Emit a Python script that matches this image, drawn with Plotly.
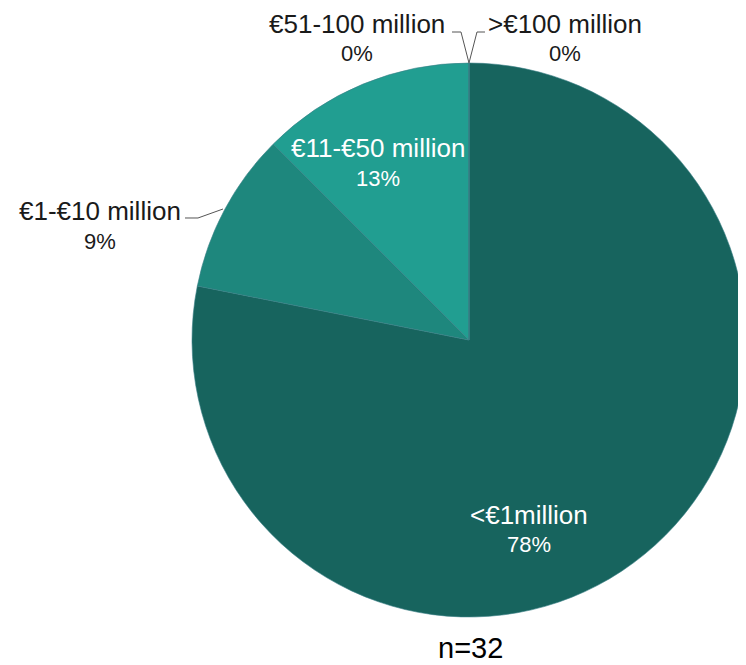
import plotly.graph_objects as go

categories = ["<€1million", "€1-€10 million", "€11-€50 million", "€51-100 million", ">€100 million"]
values = [25, 3, 4, 0, 0]
colors = ["#17645E", "#1E877D", "#219E91", "#21A093", "#17645E"]
n_label = "n=32"

# browser body margin of 8px -> figure drawn inside the window
OFF = 8
W, H = 746 - OFF, 665 - OFF
FONT = "Liberation Sans"

def P(px, py):
    """page pixel -> paper coordinates"""
    return (px - OFF) / W, 1 - (py - OFF) / H

total = sum(values)
pcts = [f"{int(v / total * 100 + 0.5)}%" for v in values]

cx, cy, r = 469, 340, 277
x0, _ = P(cx - r, 0)
x1, _ = P(cx + r, 0)
_, y1 = P(0, cy - r)
_, y0 = P(0, cy + r)

fig = go.Figure(go.Pie(
    labels=categories, values=values, sort=False, direction="clockwise", rotation=0,
    marker=dict(colors=colors, line=dict(width=0.6, color="#3a7f86")),
    textinfo="none", hoverinfo="label+percent", showlegend=False,
    domain=dict(x=[x0, min(x1, 1)], y=[y0, y1]),
))

# label centres in page pixels: (x, name y, pct y, colour)
label_pos = [(529, 515, 544, "white"), (100, 211, 241, "#1a1a1a"), (378, 148, 178, "white"),
             (357, 24, 53, "#1a1a1a"), (565, 24, 53, "#1a1a1a")]
annotations = []
for (px, py1, py2, col), cat, pc in zip(label_pos, categories, pcts):
    for txt, py, sz in ((cat, py1, 26), (pc, py2, 22)):
        ax, ay = P(px, py)
        annotations.append(dict(x=ax, y=ay, xref="paper", yref="paper", showarrow=False,
                                xanchor="center", yanchor="middle", text=txt,
                                font=dict(family=FONT, size=sz, color=col)))
nx, ny = P(470, 648)
annotations.append(dict(x=nx, y=ny, xref="paper", yref="paper", showarrow=False,
                        xanchor="center", yanchor="middle", text=n_label,
                        font=dict(family=FONT, size=29, color="black")))

def path(pts):
    s = ""
    for i, (px, py) in enumerate(pts):
        X, Y = P(px, py)
        s += ("M" if i == 0 else "L") + f"{X:.5f},{Y:.5f} "
    return s

leaders = [
    [(185, 218), (198, 218), (223, 209)],
    [(452, 32), (461, 32), (469, 63)],
    [(485, 32), (477, 32), (469, 63)],
]
shapes = [dict(type="path", xref="paper", yref="paper", path=path(p),
               line=dict(color="#555555", width=1)) for p in leaders]

fig.update_layout(width=W, height=H, margin=dict(l=0, r=0, t=0, b=0),
                  paper_bgcolor="white", plot_bgcolor="white",
                  annotations=annotations, shapes=shapes)
fig.write_html("out.html")
